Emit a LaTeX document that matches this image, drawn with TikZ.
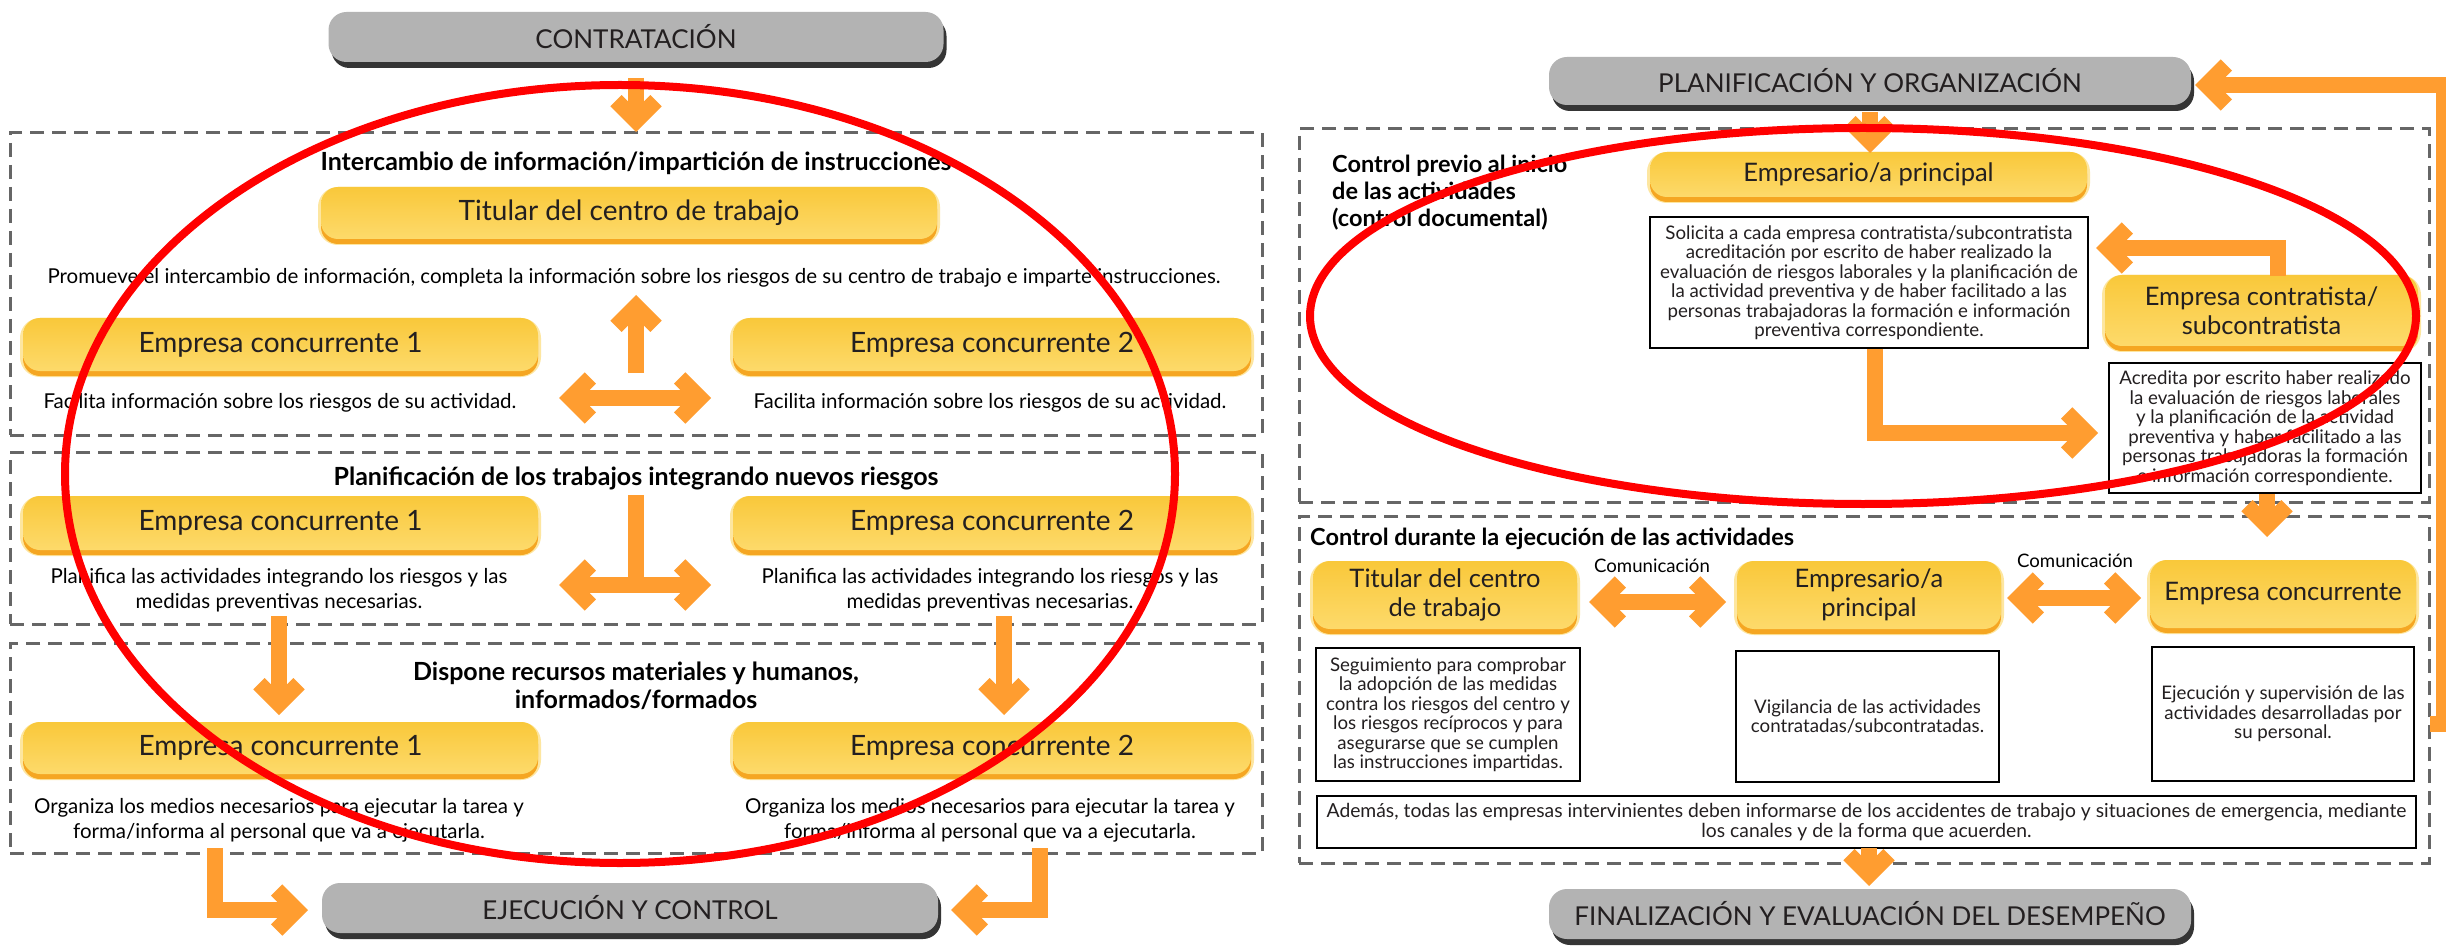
\documentclass[tikz,border=0pt]{standalone}
\usepackage{fontspec}
\setmainfont{Lato}
\usetikzlibrary{arrows.meta}
\definecolor{txt}{HTML}{231F20}
\definecolor{orng}{HTML}{FF9D30}
\definecolor{ytop}{HTML}{F9C83A}
\definecolor{ybot}{HTML}{FDDA6B}
\definecolor{yband}{HTML}{F5A622}
\definecolor{yglow}{HTML}{FDE6A0}
\definecolor{gbody}{HTML}{B3B3B3}
\definecolor{gshad}{HTML}{353535}
\definecolor{dashgray}{HTML}{666666}
\tikzset{
  ybox/.style={rounded corners=17pt, inner sep=0pt, align=center, text=txt,
    preaction={draw=yglow, line width=6pt, transform canvas={yshift=-3pt}},
    preaction={fill=yband, transform canvas={yshift=-5pt}},
    top color=ytop, bottom color=ybot},
  gbox/.style={rounded corners=18pt, inner sep=0pt, align=center, text=txt,
    preaction={fill=gshad, transform canvas={yshift=-6pt, xshift=3pt}},
    fill=gbody, font=\fontsize{26}{30}\selectfont},
  wbox/.style={draw=black, line width=2pt, fill=white, inner sep=0pt, align=center, text=txt,
    font=\fontsize{18.7}{19.5}\selectfont},
  dbox/.style={draw=dashgray, line width=3pt, dash pattern=on 14pt off 8pt, inner sep=0pt},
  oline/.style={draw=orng, line width=16pt},
  barb/.tip={Straight Barb[sharp,length=20pt,width=40pt]},
  oarr/.style={oline, -barb},
  odarr/.style={oline, barb-barb},
  redell/.style={draw=red, line width=8pt},
  lyel/.style={ybox, font=\fontsize{28}{33}\selectfont},
  ryel/.style={ybox, font=\fontsize{25.5}{29}\selectfont},
  ltitle/.style={inner sep=0pt, align=center, font=\bfseries\fontsize{25}{28}\selectfont},
  lbody/.style={inner sep=0pt, align=center, font=\fontsize{20.5}{25}\selectfont},
  rtitle/.style={inner sep=0pt, align=left, font=\bfseries\fontsize{23.5}{27}\selectfont},
  comm/.style={inner sep=0pt, font=\fontsize{18.6}{20}\selectfont},
}
\begin{document}
\begin{tikzpicture}[x=1pt,y=-1pt]
\useasboundingbox (0,0) rectangle (2446,949);
\fill[white] (0,0) rectangle (2446,949);

% dashed frames
\node[dbox, minimum width=1252pt, minimum height=302pt] (d1) at (636,284) {};
\node[dbox, minimum width=1252pt, minimum height=172pt] (d2) at (636,538) {};
\node[dbox, minimum width=1252pt, minimum height=210pt] (d3) at (636,748) {};
\node[dbox, minimum width=1130pt, minimum height=373pt] (d4) at (1864,315.5) {};
\node[dbox, minimum width=1130pt, minimum height=347pt] (d5) at (1864,689.5) {};

% gray phase boxes
\node[gbox, minimum width=615pt, minimum height=50pt] (g1) at (636,37) {CONTRATACIÓN};
\node[gbox, minimum width=616pt, minimum height=50pt] (g2) at (630,908) {EJECUCIÓN Y CONTROL};
\node[gbox, minimum width=642pt, minimum height=48pt] (g3) at (1870,81) {PLANIFICACIÓN Y ORGANIZACIÓN};
\node[gbox, minimum width=642pt, minimum height=50pt] (g4) at (1870,914) {FINALIZACIÓN Y EVALUACIÓN DEL DESEMPEÑO};

% ---------- left column ----------
\node[ltitle] (t1) at (636,163) {Intercambio de información/impartición de instrucciones};
\node[lyel, minimum width=616pt, minimum height=52pt] (y1) at (629,213) {Titular del centro de trabajo};
\node[lbody] (b1) at (634,278) {Promueve el intercambio de información, completa la información sobre los riesgos de su centro de trabajo e imparte instrucciones.};
\node[lyel, minimum width=515pt, minimum height=53pt] (y2) at (280.5,344.5) {Empresa concurrente 1};
\node[lyel, minimum width=518pt, minimum height=53pt] (y3) at (992,344.5) {Empresa concurrente 2};
\node[lbody] (b2) at (280,403) {Facilita información sobre los riesgos de su actividad.};
\node[lbody] (b3) at (990,403) {Facilita información sobre los riesgos de su actividad.};

\node[ltitle] (t2) at (636,478) {Planificación de los trabajos integrando nuevos riesgos};
\node[lyel, minimum width=515pt, minimum height=54pt] (y4) at (280.5,523) {Empresa concurrente 1};
\node[lyel, minimum width=518pt, minimum height=54pt] (y5) at (992,523) {Empresa concurrente 2};
\node[lbody] (b4) at (279,590.5) {Planifica las actividades integrando los riesgos y las\\medidas preventivas necesarias.};
\node[lbody] (b5) at (990,590.5) {Planifica las actividades integrando los riesgos y las\\medidas preventivas necesarias.};

\node[ltitle] (t3) at (636,686) {Dispone recursos materiales y humanos,\\informados/formados};
\node[lyel, minimum width=515pt, minimum height=52pt] (y6) at (280.5,748) {Empresa concurrente 1};
\node[lyel, minimum width=518pt, minimum height=52pt] (y7) at (992,748) {Empresa concurrente 2};
\node[lbody] (b6) at (279,820.5) {Organiza los medios necesarios para ejecutar la tarea y\\forma/informa al personal que va a ejecutarla.};
\node[lbody] (b7) at (990,820.5) {Organiza los medios necesarios para ejecutar la tarea y\\forma/informa al personal que va a ejecutarla.};

% ---------- right column ----------
\node[rtitle, anchor=north west] (t4) at (1332,155) {Control previo al inicio\\de las actividades\\(control documental)};
\node[ryel, minimum width=437pt, minimum height=45pt] (y8) at (1868.5,174.5) {Empresario/a principal};
\node[wbox, minimum width=438pt, minimum height=131pt] (w1) at (1869,282.5) {Solicita a cada empresa contratista/subcontratista\\acreditación por escrito de haber realizado la\\evaluación de riesgos laborales y la planificación de\\la actividad preventiva y de haber facilitado a las\\personas trabajadoras la formación e información\\preventiva correspondiente.};
\node[ryel, minimum width=313pt, minimum height=71pt] (y9) at (2261.5,310.5) {Empresa contratista/\\subcontratista};
\node[wbox, minimum width=312pt, minimum height=130pt] (w2) at (2265,428) {Acredita por escrito haber realizado\\la evaluación de riesgos laborales\\y la planificación de la actividad\\preventiva y haber facilitado a las\\personas trabajadoras la formación\\e información correspondiente.};

\node[rtitle, anchor=west] (t5) at (1310,539) {Control durante la ejecución de las actividades};
\node[ryel, minimum width=264pt, minimum height=68pt] (y10) at (1445,595) {Titular del centro\\de trabajo};
\node[ryel, minimum width=264pt, minimum height=68pt] (y11) at (1869,595) {Empresario/a\\principal};
\node[ryel, minimum width=266pt, minimum height=68pt] (y12) at (2283,594) {Empresa concurrente};
\node[comm] (c1) at (1652,566) {Comunicación};
\node[comm] (c2) at (2075,561) {Comunicación};
\node[wbox, minimum width=264pt, minimum height=133pt] (w3) at (1448,714.5) {Seguimiento para comprobar\\la adopción de las medidas\\contra los riesgos del centro y\\los riesgos recíprocos y para\\asegurarse que se cumplen\\las instrucciones impartidas.};
\node[wbox, minimum width=263pt, minimum height=131pt] (w4) at (1867.5,716.5) {Vigilancia de las actividades\\contratadas/subcontratadas.};
\node[wbox, minimum width=262pt, minimum height=134pt] (w5) at (2283,714) {Ejecución y supervisión de las\\actividades desarrolladas por\\su personal.};
\node[wbox, minimum width=1099pt, minimum height=52pt, font=\fontsize{19.3}{19.5}\selectfont] (w6) at (1866.5,822) {Además, todas las empresas intervinientes deben informarse de los accidentes de trabajo y situaciones de emergencia, mediante\\los canales y de la forma que acuerden.};

% ---------- connector coordinates ----------
\coordinate (a1s) at (636,78);   \coordinate (a1e) at (636,132);
\coordinate (a2s) at (636,373);  \coordinate (a2e) at (636,295);
\coordinate (h1l) at (559,398);  \coordinate (h1r) at (711,398);
\coordinate (a3s) at (636,495);  \coordinate (a3e) at (636,585);
\coordinate (h2l) at (559,585);  \coordinate (h2r) at (711,585);
\coordinate (a4s) at (279,616);  \coordinate (a4e) at (279,715);
\coordinate (a5s) at (1004,616); \coordinate (a5e) at (1004,715);
\coordinate (a6s) at (215,848);  \coordinate (a6e) at (308,910);
\coordinate (a7s) at (1040,848); \coordinate (a7e) at (951,910);
\coordinate (r1s) at (1870,112); \coordinate (r1e) at (1870,153);
\coordinate (r2s) at (2278,276); \coordinate (r2e) at (2096,248);
\coordinate (r3s) at (1875,349); \coordinate (r3e) at (2098,433);
\coordinate (r4s) at (2267,494); \coordinate (r4e) at (2267,537);
\coordinate (h3l) at (1589,602); \coordinate (h3r) at (1726,602);
\coordinate (h4l) at (2007,598); \coordinate (h4r) at (2141,598);
\coordinate (r5s) at (1869,848); \coordinate (r5e) at (1869,886);
\coordinate (rb) at (2430,724);  \coordinate (rt) at (2195,85);

% ---------- orange arrows ----------
\draw[oarr] (a1s) -- (a1e);
\draw[oarr] (a2s) -- (a2e);
\draw[odarr] (h1l) -- (h1r);
\draw[oline] (a3s) -- (a3e);
\draw[odarr] (h2l) -- (h2r);
\draw[oarr] (a4s) -- (a4e);
\draw[oarr] (a5s) -- (a5e);
\draw[oarr] (a6s) |- (a6e);
\draw[oarr] (a7s) |- (a7e);
\draw[oarr] (r1s) -- (r1e);
\draw[oarr] (r2s) |- (r2e);
\draw[oarr] (r3s) |- (r3e);
\draw[oarr] (r4s) -- (r4e);
\draw[odarr] (h3l) -- (h3r);
\draw[odarr] (h4l) -- (h4r);
\draw[oarr] (r5s) -- (r5e);
\draw[oarr] (rb) -- (2444,724) -- (2444,85) -- (rt);

% ---------- red ellipses ----------
\draw[redell] (620,474) ellipse [x radius=555pt, y radius=389pt];
\draw[redell] (1863,316) ellipse [x radius=553pt, y radius=188pt];
\end{tikzpicture}
\end{document}
